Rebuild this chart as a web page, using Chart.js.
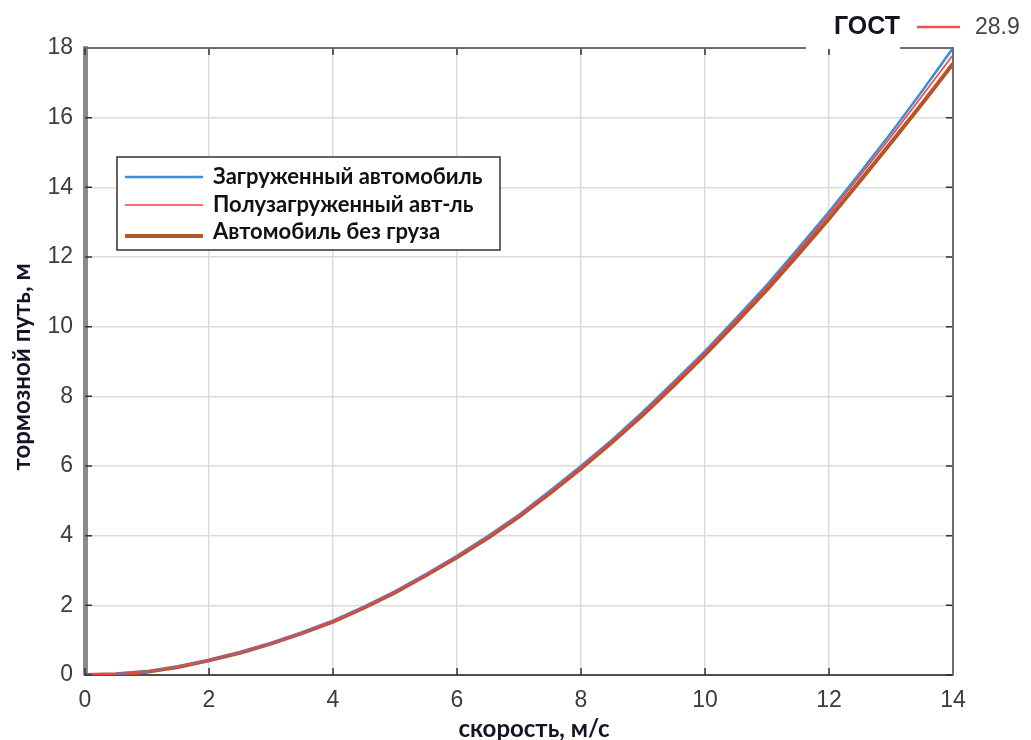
<!DOCTYPE html>
<html lang="ru">
<head>
    <meta charset="UTF-8">
    <title>Тормозной путь</title>
    <style>
        body {
            margin: 0;
            padding: 0;
            background: #ffffff;
            overflow: hidden;
        }
        #wrap {
            width: 1031px;
            height: 740px;
        }
    </style>
    <script src="https://cdn.jsdelivr.net/npm/chart.js"></script>
</head>
<body>
    <div id="wrap"><canvas id="brakeChart" width="1031" height="740"></canvas></div>

    <script>
        // speed, m/s
        const speed = [0, 0.5, 1, 1.5, 2, 2.5, 3, 3.5, 4, 4.5, 5, 5.5, 6, 6.5, 7, 7.5, 8, 8.5, 9, 9.5, 10, 10.5, 11, 11.5, 12, 12.5, 13, 13.5, 14];
        // braking distance, m
        const loaded = [0, 0.03, 0.1, 0.24, 0.43, 0.65, 0.91, 1.22, 1.56, 1.96, 2.4, 2.9, 3.42, 3.99, 4.6, 5.29, 6.0, 6.75, 7.56, 8.42, 9.3, 10.24, 11.2, 12.24, 13.3, 14.42, 15.56, 16.76, 18.0];
        const halfLoaded = [0, 0.03, 0.1, 0.24, 0.43, 0.65, 0.91, 1.22, 1.55, 1.95, 2.39, 2.88, 3.41, 3.97, 4.58, 5.26, 5.97, 6.72, 7.52, 8.38, 9.26, 10.19, 11.14, 12.17, 13.22, 14.33, 15.45, 16.62, 17.8];
        const empty = [0, 0.02, 0.09, 0.23, 0.42, 0.64, 0.9, 1.2, 1.53, 1.93, 2.37, 2.86, 3.38, 3.94, 4.55, 5.22, 5.93, 6.68, 7.47, 8.32, 9.2, 10.12, 11.06, 12.07, 13.1, 14.18, 15.28, 16.4, 17.55];

        const seriesNames = ['Загруженный автомобиль', 'Полузагруженный авт-ль', 'Автомобиль без груза'];
        const seriesColors = ['#3a8fd6', '#ff3b3b', '#b4562c'];
        const seriesWidths = [2.5, 1.5, 4];

        const xTitle = 'скорость, м/с';
        const yTitle = 'тормозной путь, м';
        const gostLabel = 'ГОСТ';
        const gostValue = '28.9';

        function toPoints(ys) {
            return speed.map((x, i) => ({ x: x, y: ys[i] }));
        }

        // axis titles, inward ticks, box, legend and the GOST note
        const decorPlugin = {
            id: 'decor',
            afterDraw(chart) {
                const ctx = chart.ctx;
                const a = chart.chartArea;
                const xs = chart.scales.x;
                const ys = chart.scales.y;
                ctx.save();

                // inward tick marks
                ctx.strokeStyle = '#333';
                ctx.lineWidth = 1.5;
                xs.ticks.forEach(t => {
                    const px = xs.getPixelForValue(t.value);
                    ctx.beginPath();
                    ctx.moveTo(px, a.bottom);
                    ctx.lineTo(px, a.bottom - 7);
                    ctx.moveTo(px, a.top);
                    ctx.lineTo(px, a.top + 7);
                    ctx.stroke();
                });
                ys.ticks.forEach(t => {
                    const py = ys.getPixelForValue(t.value);
                    ctx.beginPath();
                    ctx.moveTo(a.left, py);
                    ctx.lineTo(a.left + 7, py);
                    ctx.moveTo(a.right, py);
                    ctx.lineTo(a.right - 7, py);
                    ctx.stroke();
                });

                // top and right border
                ctx.strokeStyle = '#6e6e6e';
                ctx.lineWidth = 2;
                ctx.beginPath();
                ctx.moveTo(a.left, a.top);
                ctx.lineTo(a.right, a.top);
                ctx.lineTo(a.right, a.bottom);
                ctx.stroke();

                // GOST note box
                ctx.fillStyle = '#ffffff';
                ctx.fillRect(806, 0, 94, a.top + 1);
                ctx.font = 'bold 25px "Liberation Sans", Arial, sans-serif';
                ctx.fillStyle = '#141420';
                ctx.textBaseline = 'middle';
                ctx.textAlign = 'left';
                ctx.fillText(gostLabel, 834, 27);
                ctx.strokeStyle = '#f05050';
                ctx.lineWidth = 2.5;
                ctx.beginPath();
                ctx.moveTo(917, 27);
                ctx.lineTo(960, 27);
                ctx.stroke();
                ctx.font = '23px "Liberation Sans", Arial, sans-serif';
                ctx.fillStyle = '#444';
                ctx.fillText(gostValue, 975, 28);

                // legend inside plot
                ctx.fillStyle = '#ffffff';
                ctx.fillRect(117, 157, 383, 93);
                ctx.strokeStyle = '#333';
                ctx.lineWidth = 1.5;
                ctx.strokeRect(117, 157, 383, 93);
                const rows = [177, 205, 232];
                ctx.font = 'bold 22px Lato, "Open Sans", sans-serif';
                chart.data.datasets.forEach((ds, i) => {
                    const y = rows[i];
                    ctx.strokeStyle = ds.borderColor;
                    ctx.lineWidth = ds.borderWidth;
                    ctx.beginPath();
                    ctx.moveTo(125, y + (i === 2 ? 4 : 0));
                    ctx.lineTo(203, y + (i === 2 ? 4 : 0));
                    ctx.stroke();
                    ctx.fillStyle = '#111';
                    ctx.fillText(ds.label, 213, y);
                });

                // axis titles
                ctx.fillStyle = '#141428';
                ctx.font = 'bold 24px Lato, "Open Sans", sans-serif';
                ctx.textAlign = 'center';
                ctx.fillText(xTitle, 534, 729);
                ctx.translate(22, 367);
                ctx.rotate(-Math.PI / 2);
                ctx.fillText(yTitle, 0, 0);

                ctx.restore();
            }
        };

        const tickFont = { size: 23, family: '"Liberation Sans", Arial, sans-serif' };

        const brakeChart = new Chart(document.getElementById('brakeChart'), {
            type: 'line',
            data: {
                datasets: [
                    { label: seriesNames[0], data: toPoints(loaded), borderColor: seriesColors[0], borderWidth: seriesWidths[0], order: 1 },
                    { label: seriesNames[1], data: toPoints(halfLoaded), borderColor: seriesColors[1], borderWidth: seriesWidths[1], order: 0 },
                    { label: seriesNames[2], data: toPoints(empty), borderColor: seriesColors[2], borderWidth: seriesWidths[2], order: 2 }
                ]
            },
            options: {
                responsive: false,
                animation: false,
                devicePixelRatio: 1,
                layout: { padding: { left: 0, top: 48, right: 78, bottom: 0 } },
                elements: { point: { radius: 0 }, line: { tension: 0, fill: false } },
                plugins: { legend: { display: false }, tooltip: { enabled: false } },
                scales: {
                    x: {
                        type: 'linear',
                        min: 0,
                        max: 14,
                        afterFit: s => { s.height = 65; },
                        ticks: { stepSize: 2, padding: 12, color: '#3c3c3c', font: tickFont },
                        grid: { color: '#dcdcdc', lineWidth: 1.5, drawTicks: false },
                        border: { color: '#4f4f4f', width: 2 }
                    },
                    y: {
                        min: 0,
                        max: 18,
                        afterFit: s => { s.width = 85; },
                        ticks: { stepSize: 2, padding: 12, color: '#3c3c3c', font: tickFont },
                        grid: { color: '#dcdcdc', lineWidth: 1.5, drawTicks: false },
                        border: { color: '#8a8a8a', width: 5 }
                    }
                }
            },
            plugins: [decorPlugin]
        });
    </script>
</body>
</html>
